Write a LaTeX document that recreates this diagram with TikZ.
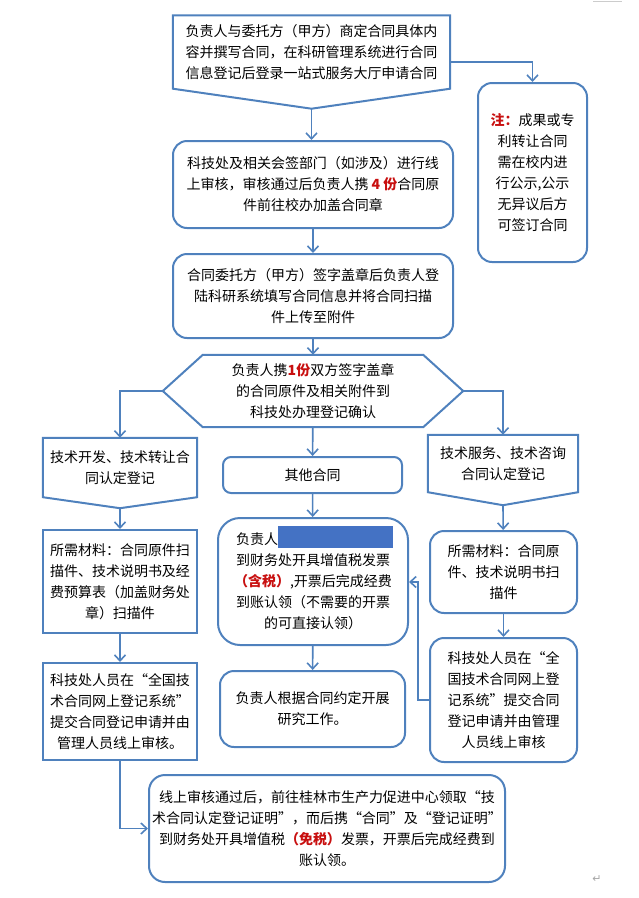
\documentclass[tikz,border=0pt]{standalone}
\usepackage{fontspec}
\newfontfamily\cjk{Noto Sans CJK SC}
\newfontfamily\symfont{DejaVu Sans}
\usetikzlibrary{arrows.meta,calc}
\definecolor{lineblue}{RGB}{79,129,189}
\definecolor{maskblue}{RGB}{68,114,196}
\definecolor{keyred}{RGB}{200,16,16}
\newcommand{\hl}[1]{\textcolor{keyred}{\bfseries #1}}

\begin{document}
\begin{tikzpicture}[x=1pt,y=-1pt,
    txt/.style={align=center, font=\cjk\fontsize{14}{21}\selectfont, inner sep=0pt},
    rbox/.style={txt, draw=lineblue, line width=2pt, rounded corners=14pt},
    sbox/.style={txt, draw=lineblue, line width=2pt},
    outline/.style={draw=lineblue, line width=2pt, line join=miter},
    flow/.style={draw=lineblue, line width=1.6pt, -{Straight Barb[length=6pt,width=11pt]}}]
    \useasboundingbox (0,0) rectangle (639,898);

    % top of the page
    \node[txt, minimum width=277, minimum height=73] (apply) at (311.5,52) {负责人与委托方（甲方）商定合同具体内\\容并撰写合同，在科研管理系统进行合同\\信息登记后登录一站式服务大厅申请合同};
    \draw[outline] (apply.north west) -- (apply.north east) -- (apply.south east) -- ($(apply.south)+(0,20)$) -- (apply.south west) -- cycle;
    \coordinate (applytip) at ($(apply.south)+(0,20)$);

    \node[rbox, minimum width=109, minimum height=179] (note) at (532.5,172.5) {\hl{注：}成果或专\\利转让合同\\需在校内进\\行公示,公示\\无异议后方\\可签订合同};

    \node[rbox, minimum width=280, minimum height=87] (review) at (313,184.5) {科技处及相关会签部门（如涉及）进行线\\上审核，审核通过后负责人携 \hl{4 份}合同原\\件前往校办加盖合同章};
    \node[rbox, minimum width=280, minimum height=84] (upload) at (313,296) {合同委托方（甲方）签字盖章后负责人登\\陆科研系统填写合同信息并将合同扫描\\件上传至附件};

    \node[txt, minimum width=220, minimum height=72] (register) at (313,391) {负责人携\hl{1份}双方签字盖章\\的合同原件及相关附件到\\科技处办理登记确认};
    \coordinate (regW) at ($(register.west)+(-40,0)$);
    \coordinate (regE) at ($(register.east)+(40,0)$);
    \draw[outline] (register.north west) -- (register.north east) -- (regE) -- (register.south east) -- (register.south west) -- (regW) -- cycle;

    % left column
    \node[txt, minimum width=154, minimum height=59] (dev) at (120,467.5) {技术开发、技术转让合\\同认定登记};
    \draw[outline] (dev.north west) -- (dev.north east) -- (dev.south east) -- ($(dev.south)+(0,11)$) -- (dev.south west) -- cycle;
    \coordinate (devtip) at ($(dev.south)+(0,11)$);
    \node[sbox, minimum width=154, minimum height=103] (devdoc) at (120,581.5) {所需材料：合同原件扫\\描件、技术说明书及经\\费预算表（加盖财务处\\章）扫描件};
    \node[sbox, minimum width=154, minimum height=97] (devsys) at (120,711.5) {科技处人员在“全国技\\术合同网上登记系统”\\提交合同登记申请并由\\管理人员线上审核。};

    % middle column
    \node[rbox, rounded corners=8pt, minimum width=179, minimum height=36] (other) at (312.5,475) {其他合同};
    \node[rbox, rounded corners=22pt, minimum width=190, minimum height=127] (invoice) at (313,581.5) {\makebox[11em][l]{负责人}\\到财务处开具增值税发票\\\hl{（含税）},开票后完成经费\\到账认领（不需要的开票\\的可直接认领）};
    \fill[maskblue] (278,526) rectangle (393,548);
    \node[rbox, minimum width=185, minimum height=76] (work) at (312.5,709) {负责人根据合同约定开展\\研究工作。};

    % right column
    \node[txt, minimum width=150, minimum height=57] (serv) at (503,463.5) {技术服务、技术咨询\\合同认定登记};
    \draw[outline] (serv.north west) -- (serv.north east) -- (serv.south east) -- ($(serv.south)+(0,13)$) -- (serv.south west) -- cycle;
    \coordinate (servtip) at ($(serv.south)+(0,13)$);
    \node[rbox, minimum width=147, minimum height=82] (servdoc) at (503.5,572) {所需材料：合同原\\件、技术说明书扫\\描件};
    \node[rbox, minimum width=147, minimum height=124] (servsys) at (503.5,700) {科技处人员在“全\\国技术合同网上登\\记系统”提交合同\\登记申请并由管理\\人员线上审核};

    % bottom
    \node[rbox, rounded corners=16pt, minimum width=356, minimum height=107] (cert) at (327,828.5) {线上审核通过后，前往桂林市生产力促进中心领取“技\\术合同认定登记证明”，而后携“合同”及“登记证明”\\到财务处开具增值税\hl{（免税）}发票，开票后完成经费到\\账认领。};

    \node[font=\symfont\fontsize{11}{11}\selectfont, text=gray!70, inner sep=0pt] (mark) at (597,879) {↵};
    \draw[gray!40, line width=1pt] (593,1) -- (622,1);

    % connectors
    \draw[flow] (applytip) -- (applytip |- review.north);
    \draw[flow] ($(apply.east)+(0,10)$) -| (note.north);
    \draw[flow] (review) -- (upload);
    \draw[flow] (upload) -- (register);
    \draw[flow] (regW) -| (dev.north);
    \draw[flow] (regE) -| (serv.north);
    \draw[flow] (register) -- (other);
    \draw[flow] (devtip) -- (devdoc);
    \draw[flow] (devdoc) -- (devsys);
    \draw[flow] (devsys.south) |- (cert.west);
    \draw[flow] (other) -- (invoice);
    \draw[flow] (invoice) -- (work);
    \draw[flow] (servtip) -- (servdoc);
    \draw[flow] (servdoc) -- (servsys);
    \coordinate (back) at (418,582);
    \draw[flow] (servsys.west) -| (back) -- (back -| invoice.east);
\end{tikzpicture}
\end{document}
